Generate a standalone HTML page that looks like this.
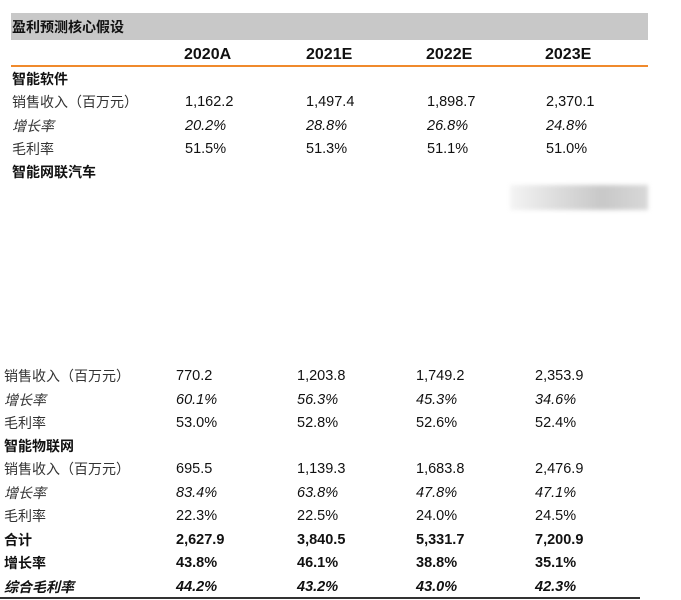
<!DOCTYPE html>
<html><head><meta charset="utf-8"><style>
body{margin:0;width:681px;height:600px;background:#fff;position:relative;overflow:hidden;font-family:"Liberation Sans","Noto Sans CJK SC",sans-serif;color:#111;}
.t{position:absolute;font-size:14px;line-height:16px;white-space:nowrap;}
.b{font-weight:bold;}.i{font-style:italic;}
.l{color:#333;}
</style></head><body>
<div style="position:absolute;left:11px;top:13px;height:27px;width:637px;background:#c8c8c8"></div>
<div class="t b" style="left:12px;top:19px;">盈利预测核心假设</div>
<div class="t b" style="left:184px;top:46px;font-size:16px;line-height:18px">2020A</div>
<div class="t b" style="left:306px;top:46px;font-size:16px;line-height:18px">2021E</div>
<div class="t b" style="left:426px;top:46px;font-size:16px;line-height:18px">2022E</div>
<div class="t b" style="left:545px;top:46px;font-size:16px;line-height:18px">2023E</div>
<div style="position:absolute;left:11px;top:65px;width:637px;height:2px;background:#f08a2c"></div>
<div style="position:absolute;left:510px;top:185px;width:138px;height:25px;background:linear-gradient(90deg,#f4f4f4,#ddd,#c8c8c8,#d8d8d8);filter:blur(2px)"></div>
<div id="rows"></div>
<div style="position:absolute;left:0;top:597px;width:640px;height:2px;background:#333"></div>
<script>
const rowLabels=["智能软件","销售收入（百万元）","增长率","毛利率","智能网联汽车","销售收入（百万元）","增长率","毛利率","智能物联网","销售收入（百万元）","增长率","毛利率","合计","增长率","综合毛利率"];
const rowValues=[[],["1,162.2","1,497.4","1,898.7","2,370.1"],["20.2%","28.8%","26.8%","24.8%"],["51.5%","51.3%","51.1%","51.0%"],[],["770.2","1,203.8","1,749.2","2,353.9"],["60.1%","56.3%","45.3%","34.6%"],["53.0%","52.8%","52.6%","52.4%"],[],["695.5","1,139.3","1,683.8","2,476.9"],["83.4%","63.8%","47.8%","47.1%"],["22.3%","22.5%","24.0%","24.5%"],["2,627.9","3,840.5","5,331.7","7,200.9"],["43.8%","46.1%","38.8%","35.1%"],["44.2%","43.2%","43.0%","42.3%"]];
const rowStyles=["b","l","i l","l","b","l","i l","l","b","l","i l","l","b","b","b i"];
const tops=[71,94,118,141,164,368,392,415,438,461,485,508,532,555,579];
const root=document.getElementById('rows');
rowLabels.forEach((lab,r)=>{
  const bottom=r>=5;
  const lx=bottom?4:12, cols=bottom?[176,297,416,535]:[185,306,427,546];
  const d=document.createElement('div');
  d.className='t '+rowStyles[r];
  
  
  d.style.left=lx+'px';d.style.top=tops[r]+'px';d.textContent=lab;root.appendChild(d);
  rowValues[r].forEach((v,c)=>{
    const e=document.createElement('div');
    e.className='t '+rowStyles[r].replace('l','');
    
    
    e.style.left=cols[c]+'px';e.style.top=tops[r]+'px';e.style.fontSize='14.5px';e.textContent=v;root.appendChild(e);
  });
});
</script>
</body></html>
